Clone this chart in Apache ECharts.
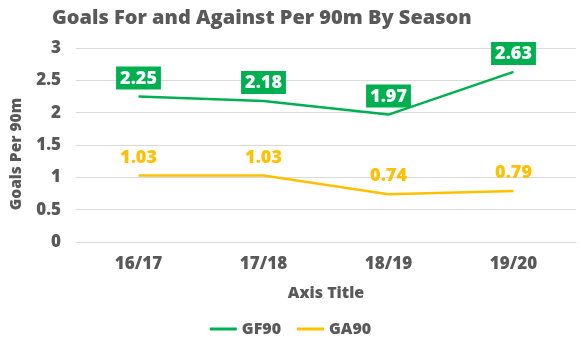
<!DOCTYPE html>
<html>
<head>
<meta charset="utf-8">
<script src="https://cdn.jsdelivr.net/npm/echarts@6/dist/echarts.min.js"></script>
<style>
  html,body{margin:0;padding:0;background:#fff;}
  #chart{width:581px;height:354px;}
</style>
</head>
<body>
<div id="chart"></div>
<script>
// data
const seasons = ['16/17', '17/18', '18/19', '19/20']
const gf90 = [2.25, 2.18, 1.97, 2.63]
const ga90 = [1.03, 1.03, 0.74, 0.79]
const yTicks = [0, 0.5, 1, 1.5, 2, 2.5, 3]

const green = '#00b050'
const gold = '#ffc000'
const grey = '#595959'
const font = '"Open Sans", Lato, sans-serif'

const myChart = echarts.init(document.getElementById('chart'))

const option = {
  title: {
    text: 'Goals For and Against Per 90m By Season',
    left: 47,
    top: 3,
    textStyle: { color: grey, fontSize: 20, fontWeight: 800, fontFamily: font }
  },
  grid: { left: 76, right: 5, top: 48, bottom: 112 },
  legend: {
    bottom: 12,
    left: 'center',
    itemWidth: 27,
    itemHeight: 3,
    itemGap: 16,
    icon: 'rect',
    textStyle: { color: grey, fontSize: 16, fontWeight: 800, fontFamily: font },
    data: ['GF90', 'GA90']
  },
  xAxis: {
    type: 'category',
    data: seasons,
    name: 'Axis Title',
    nameLocation: 'middle',
    nameGap: 43,
    nameTextStyle: { color: grey, fontSize: 16, fontWeight: 800, fontFamily: font },
    axisLine: { show: true, lineStyle: { color: '#d9d9d9', width: 1 } },
    axisTick: { show: false },
    axisLabel: { color: grey, fontSize: 17, fontWeight: 800, fontFamily: font, margin: 14 }
  },
  yAxis: {
    type: 'value',
    min: yTicks[0],
    max: yTicks[yTicks.length - 1],
    interval: 0.5,
    name: 'Goals Per 90m',
    nameLocation: 'middle',
    nameGap: 51,
    nameTextStyle: { color: grey, fontSize: 15.5, fontWeight: 800, fontFamily: font, padding: [0, 18, 0, 0] },
    axisLine: { show: false },
    axisTick: { show: false },
    splitLine: { lineStyle: { color: '#d9d9d9', width: 1 } },
    axisLabel: { color: grey, fontSize: 17, fontWeight: 800, fontFamily: font, margin: 15 }
  },
  series: [
    {
      name: 'GF90',
      type: 'line',
      data: gf90,
      symbol: 'circle',
      symbolSize: 0,
      lineStyle: { color: green, width: 2.5 },
      itemStyle: { color: green },
      label: {
        show: true,
        position: 'top',
        distance: 7,
        color: '#fff',
        backgroundColor: green,
        padding: [3, 4, 2, 4],
        fontSize: 18,
        fontWeight: 800,
        fontFamily: font,
        formatter: (p) => p.value.toFixed(2)
      }
    },
    {
      name: 'GA90',
      type: 'line',
      data: ga90,
      symbol: 'circle',
      symbolSize: 0,
      lineStyle: { color: gold, width: 2.5 },
      itemStyle: { color: gold },
      label: {
        show: true,
        position: 'top',
        distance: 9,
        color: gold,
        fontSize: 18,
        fontWeight: 800,
        fontFamily: font,
        formatter: (p) => p.value.toFixed(2)
      }
    }
  ]
}

myChart.setOption(option)
</script>
</body>
</html>
